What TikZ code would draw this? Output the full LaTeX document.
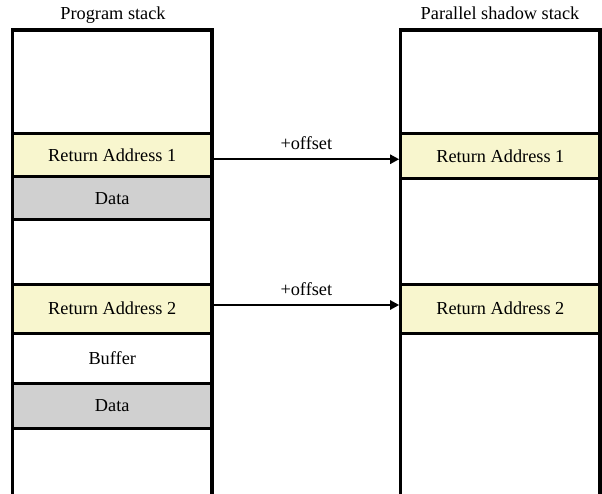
\documentclass[tikz,border=0pt]{standalone}
\usepackage{fontspec}
\setmainfont{Liberation Serif}
\usetikzlibrary{arrows.meta}
\definecolor{rayellow}{HTML}{F8F6CE}
\definecolor{datagray}{HTML}{D0D0D0}
\begin{document}
\begin{tikzpicture}[x=1pt,y=-1pt,
  every node/.style={font=\fontsize{18.3}{22}\selectfont},
  cell/.style={draw=black,line width=3pt,minimum width=199.5pt,inner sep=0pt,anchor=center},
  racell/.style={cell,fill=rayellow},
  datacell/.style={cell,fill=datagray},
  plaincell/.style={cell,fill=white},
  frame/.style={draw=black,line width=3.2pt},
  arr/.style={draw=black,line width=2.4pt,-{Triangle[length=9pt,width=9pt]}},
  lbl/.style={inner sep=0pt}]
\useasboundingbox (0,0) rectangle (602,494);
% left stack rows
\node[racell,minimum height=43.5pt] (lra1) at (112.25,155.25) {Return Address 1};
\node[datacell,minimum height=43pt] (ldata1) at (112.25,198.5) {Data};
\node[racell,minimum height=49pt] (lra2) at (112.25,308.5) {Return Address 2};
\node[plaincell,minimum height=50pt] (lbuf) at (112.25,358) {Buffer};
\node[datacell,minimum height=45pt] (ldata2) at (112.25,405.5) {Data};
% right stack rows
\node[racell,minimum width=199.3pt,minimum height=45.5pt] (rra1) at (500.35,156.25) {Return Address 1};
\node[racell,minimum width=199.3pt,minimum height=49pt] (rra2) at (500.35,308.5) {Return Address 2};
% frames
\coordinate (ltl) at (12.5,30);
\coordinate (ltr) at (212,30);
\coordinate (lbl) at (12.5,497);
\coordinate (lbr) at (212,497);
\draw[frame] (lbl) -- (ltl) -- (ltr) -- (lbr);
\coordinate (rtl) at (400.7,30);
\coordinate (rtr) at (600,30);
\coordinate (rbl) at (400.7,497);
\coordinate (rbr) at (600,497);
\draw[frame] (rbl) -- (rtl) -- (rtr) -- (rbr);
% titles
\node[lbl] (t1) at (113,15) {Program stack};
\node[lbl] (t2) at (500,13) {Parallel shadow stack};
% arrows
\coordinate (a1) at ([yshift=-4pt]lra1.east);
\coordinate (a2) at ([yshift=3.5pt]lra2.east);
\draw[arr] (a1) -- (a1 -| rra1.west) node[lbl,midway,yshift=16pt] (o1) {+offset};
\draw[arr] (a2) -- (a2 -| rra2.west) node[lbl,midway,yshift=16pt] (o2) {+offset};
\end{tikzpicture}
\end{document}
